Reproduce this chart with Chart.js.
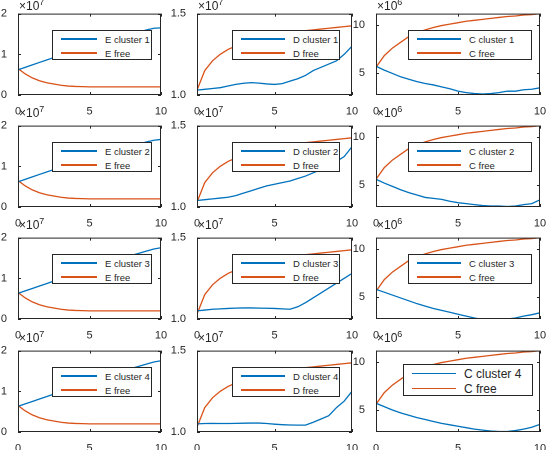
<!DOCTYPE html><html><head><meta charset="utf-8">
<script src="https://cdn.jsdelivr.net/npm/chart.js@4"></script>
<style>body{margin:0;background:#fff;width:550px;height:450px;position:relative;overflow:hidden;font-family:"Liberation Sans",Arial,sans-serif}
canvas{position:absolute}.ex{position:absolute;font-size:12px;line-height:12px;color:#262626;white-space:nowrap}.lg{position:absolute;background:#fff;border:1px solid #262626;font-size:9.5px;color:#262626;box-sizing:border-box;white-space:nowrap}
.lg div{display:flex;align-items:center;height:14px}.lg span.l{display:inline-block;width:40px;height:1.5px;margin:0 8px 0 8px;flex:none}</style></head><body>
<script>
const xs=[0,0.5,1,1.5,2,2.5,3,3.5,4,4.5,5,5.5,6,6.5,7,7.5,8,8.5,9,9.5,10];
const xTicks=[0,5,10];
// column E (x1e7)
const eFree=[0.65,0.52,0.42,0.35,0.30,0.27,0.24,0.22,0.21,0.205,0.2,0.2,0.2,0.2,0.2,0.2,0.2,0.2,0.2,0.2,0.2];
const eCluster1=[0.62,0.68,0.74,0.80,0.86,0.92,0.98,1.04,1.10,1.15,1.2,1.25,1.3,1.35,1.4,1.45,1.5,1.55,1.6,1.64,1.65];
const eCluster2=[0.62,0.68,0.74,0.80,0.86,0.92,0.98,1.04,1.10,1.15,1.2,1.25,1.3,1.35,1.4,1.45,1.5,1.55,1.6,1.64,1.66];
const eCluster3=[0.63,0.69,0.75,0.81,0.87,0.93,0.99,1.05,1.11,1.17,1.23,1.29,1.35,1.41,1.47,1.52,1.57,1.62,1.67,1.72,1.75];
const eCluster4=[0.63,0.69,0.75,0.81,0.87,0.93,0.99,1.05,1.11,1.17,1.23,1.29,1.35,1.41,1.47,1.52,1.57,1.62,1.67,1.72,1.75];
// column D (x1e7)
const dFree=[1.03,1.15,1.21,1.25,1.28,1.30,1.32,1.335,1.35,1.36,1.37,1.38,1.385,1.39,1.395,1.40,1.405,1.41,1.415,1.42,1.425];
const dCluster1=[1.03,1.035,1.04,1.045,1.055,1.065,1.072,1.076,1.073,1.068,1.065,1.07,1.085,1.10,1.12,1.15,1.17,1.19,1.21,1.25,1.30];
const dCluster2=[1.04,1.045,1.05,1.055,1.06,1.07,1.085,1.10,1.115,1.13,1.14,1.15,1.16,1.175,1.19,1.21,1.23,1.26,1.28,1.31,1.37];
const dCluster3=[1.05,1.055,1.06,1.062,1.065,1.067,1.068,1.068,1.067,1.066,1.065,1.062,1.06,1.075,1.10,1.13,1.16,1.19,1.22,1.25,1.28];
const dCluster4=[1.05,1.052,1.053,1.052,1.052,1.053,1.054,1.055,1.055,1.052,1.048,1.045,1.043,1.042,1.042,1.06,1.08,1.10,1.15,1.19,1.25];
// column C (x1e6)
const cFree=[5.6,6.8,7.6,8.2,8.8,9.2,9.5,9.75,9.95,10.1,10.25,10.4,10.5,10.6,10.7,10.8,10.9,10.95,11.05,11.1,11.2];
const cCluster1=[5.7,5.3,4.95,4.6,4.35,4.1,3.9,3.75,3.55,3.35,3.1,2.95,2.85,2.8,2.85,2.95,3.1,3.1,3.25,3.3,3.45];
const cCluster2=[5.6,5.2,4.85,4.5,4.2,3.95,3.7,3.6,3.5,3.3,3.15,3.05,2.95,2.85,2.8,2.8,2.75,2.8,2.95,3.05,3.45];
const cCluster3=[5.8,5.5,5.2,4.9,4.6,4.3,4.05,3.8,3.6,3.4,3.2,3.0,2.8,2.65,2.6,2.65,2.7,2.8,3.0,3.15,3.35];
const cCluster4=[5.7,5.35,5.0,4.7,4.45,4.2,4.0,3.8,3.6,3.45,3.3,3.15,3.0,2.9,2.8,2.75,2.75,2.85,3.0,3.2,3.5];

const cols=[{L:18,W:143,min:0,max:2,ticks:[0,1,2],ex:'7',free:eFree,cl:[eCluster1,eCluster2,eCluster3,eCluster4],name:'E',lg:[52,100]},
 {L:197,W:155,min:1,max:1.5,ticks:[1,1.5],ex:'7',free:dFree,cl:[dCluster1,dCluster2,dCluster3,dCluster4],name:'D',lg:[232,108]},
 {L:376,W:164,min:2.7,max:11.2,ticks:[5,10],ex:'6',free:cFree,cl:[cCluster1,cCluster2,cCluster3,cCluster4],name:'C',lg:[408,124]}];
const rowsT=[8,120,232,345],H=87;
const frame={id:'frame',afterDraw(c){const a=c.chartArea,x=c.ctx;x.save();x.strokeStyle='#262626';x.lineWidth=1;x.strokeRect(a.left+.5,a.top+.5,a.right-a.left-1,a.bottom-a.top-1);
 const sx=c.scales.x,sy=c.scales.y;x.beginPath();sx.ticks.forEach(t=>{const p=Math.round(sx.getPixelForValue(t.value))+.5;x.moveTo(p,a.bottom);x.lineTo(p,a.bottom-3);x.moveTo(p,a.top);x.lineTo(p,a.top+3);});
 sy.ticks.forEach(t=>{const p=Math.round(sy.getPixelForValue(t.value))+.5;x.moveTo(a.left,p);x.lineTo(a.left+3,p);x.moveTo(a.right,p);x.lineTo(a.right-3,p);});x.stroke();x.restore();}};
rowsT.forEach((T,r)=>cols.forEach((c,ci)=>{
 const cv=document.createElement('canvas');const w=c.W+28+10,h=H+4+20;
 cv.width=w;cv.height=h;
 cv.style.left=(c.L-28)+'px';cv.style.top=(T-4)+'px';cv.style.width=w+'px';cv.style.height=h+'px';document.body.appendChild(cv);
 const pts=a=>xs.map((x,i)=>({x,y:a[i]}));
 new Chart(cv,{type:'line',data:{datasets:[{data:pts(c.cl[r]),borderColor:'#0072BD'},{data:pts(c.free),borderColor:'#D95319'}]},
  options:{responsive:false,animation:false,devicePixelRatio:2,layout:{padding:{top:4,right:10}},
   elements:{point:{radius:0},line:{borderWidth:1.3,tension:0}},plugins:{legend:{display:false},tooltip:{enabled:false}},
   scales:{x:{type:'linear',min:0,max:10,grid:{display:false},border:{display:false},afterBuildTicks:s=>{s.ticks=xTicks.map(v=>({value:v}))},ticks:{color:'#262626',font:{size:11,family:'Liberation Sans'},padding:2,maxRotation:0},afterFit:s=>{s.height=20}},
    y:{min:c.min,max:c.max,grid:{display:false},border:{display:false},afterBuildTicks:s=>{s.ticks=c.ticks.map(v=>({value:v}))},ticks:{color:'#262626',font:{size:11,family:'Liberation Sans'},padding:3},afterFit:s=>{s.width=28}}}},
  plugins:[frame]});
 const ex=document.createElement('div');ex.className='ex';ex.style.left=(c.L+1)+'px';ex.style.top=Math.max(0,T-13)+'px';ex.innerHTML='×10<sup style="font-size:9px;line-height:0">'+c.ex+'</sup>';document.body.appendChild(ex);
 const big=(ci==2&&r==3);const lg=document.createElement('div');lg.className='lg';
 lg.style.left=(big?403:c.lg[0])+'px';lg.style.top=(T+(big?19:22))+'px';lg.style.width=(big?130:c.lg[1])+'px';lg.style.height=(big?32:30)+'px';
 if(big)lg.style.fontSize='12px';
 const sw=ci==0?36:44;
 lg.innerHTML='<div style="margin-top:1px;'+(big?'height:15px':'')+'"><span class="l" style="background:#0072BD;width:'+sw+'px"></span>'+c.name+' cluster '+(r+1)+'</div><div style="'+(big?'height:15px':'')+'"><span class="l" style="background:#D95319;width:'+sw+'px"></span>'+c.name+' free</div>';
 document.body.appendChild(lg);
}));
</script></body></html>
